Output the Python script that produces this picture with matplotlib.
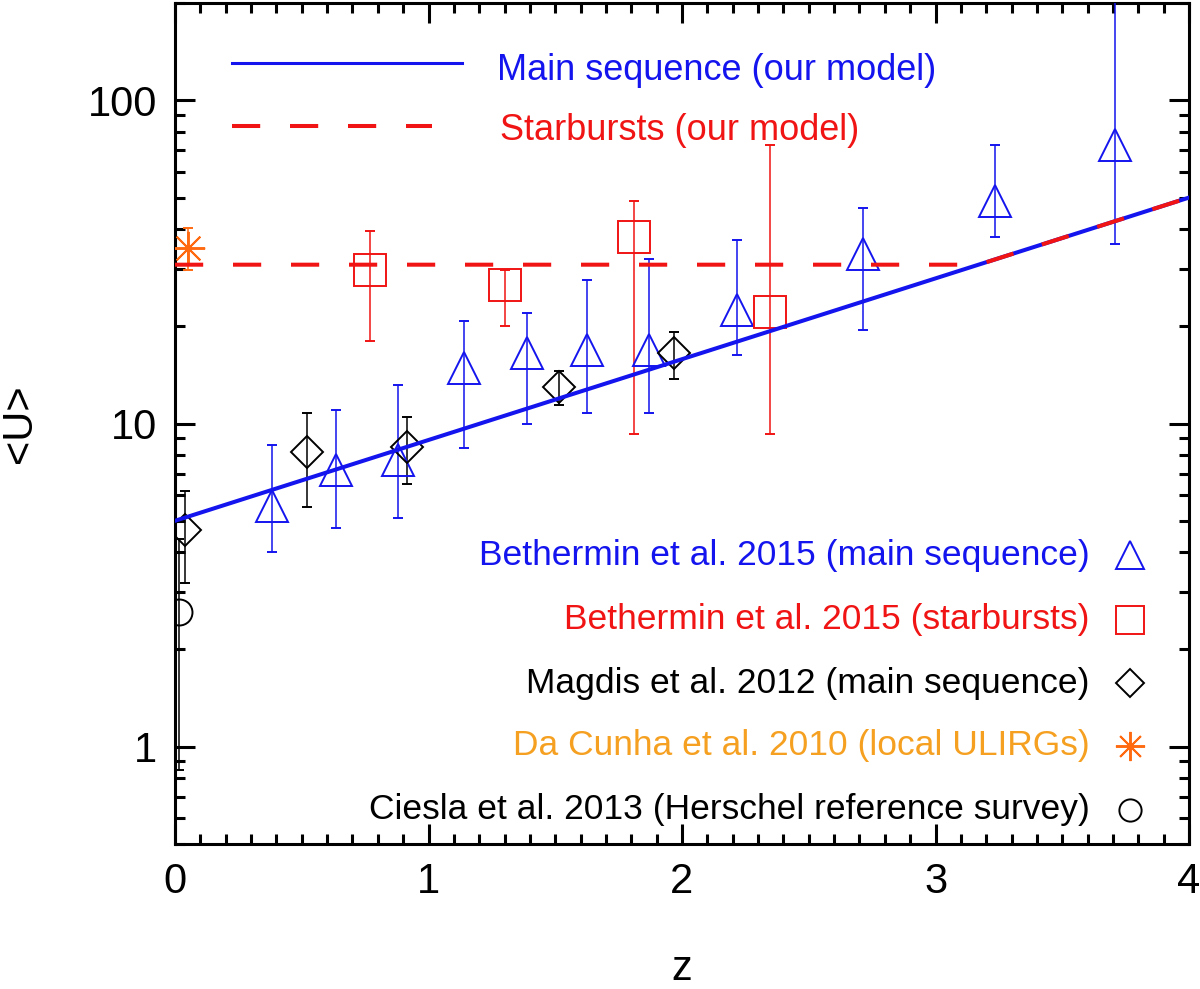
import matplotlib
matplotlib.use("Agg")
import matplotlib.pyplot as plt
from matplotlib.ticker import MultipleLocator, FixedLocator, NullFormatter
import numpy as np

plt.rcParams['font.family'] = ['Liberation Sans', 'DejaVu Sans']

# --- data ---
# model curves
ms_z = [0.0, 4.0]
ms_u = [5.0, 50.0]
sb_z = [0.0, 3.17, 4.0]
sb_u = [31.0, 31.0, 50.0]

# Bethermin et al. 2015, main sequence (triangles)
b15ms_z = [0.383, 0.634, 0.881, 1.14, 1.387, 1.624, 1.871, 2.216, 2.713, 3.235, 3.708]
b15ms_u = [5.54, 7.18, 7.71, 14.9, 16.5, 16.9, 16.9, 22.5, 33.5, 48.7, 72.6]
b15ms_hi = [8.58, 11.0, 13.2, 20.7, 22.0, 27.8, 32.2, 36.9, 46.4, 72.6, 250.0]
b15ms_lo = [4.01, 4.75, 5.1, 8.4, 10.0, 10.8, 10.8, 16.3, 19.5, 37.7, 35.9]

# Bethermin et al. 2015, starbursts (squares)
b15sb_z = [0.769, 1.302, 1.81, 2.347]
b15sb_u = [29.8, 26.8, 37.7, 22.1]
b15sb_hi = [39.4, 29.8, 48.7, 72.6]
b15sb_lo = [18.0, 20.0, 9.28, 9.28]

# Magdis et al. 2012 (diamonds)
mag_z = [0.039, 0.522, 0.914, 1.516, 1.967]
mag_u = [4.69, 8.16, 8.46, 12.97, 16.5]
mag_hi = [6.18, 10.8, 10.5, 14.5, 19.2]
mag_lo = [3.21, 5.52, 6.5, 11.4, 13.7]

# Da Cunha et al. 2010 (asterisk)
dac_z = [0.05]
dac_u = [34.9]
dac_hi = [40.2]
dac_lo = [29.8]

# Ciesla et al. 2013 (circle)
cie_z = [0.016]
cie_u = [2.62]
cie_hi = [4.4]
cie_lo = [0.845]

BLUE = '#1414ee'
RED = '#f01414'
ORANGE_TXT = '#f5a020'
ORANGE = '#ff6a10'
BLACK = 'black'
ASTER = (8, 2, 0)

fig = plt.figure(figsize=(12, 9.89), dpi=100)
L, R, T, B = 175, 1189, 3, 844
ax = fig.add_axes([L / 1200, 1 - B / 989, (R - L) / 1200, (B - T) / 989])


def fx(px):
    return (px - L) / (R - L)


def fy(py):
    return (B - py) / (B - T)


def errpts(z, u, lo, hi, marker, color, ms, mew=1.4):
    u = np.array(u)
    yerr = [u - np.array(lo), np.array(hi) - u]
    ax.errorbar(z, u, yerr=yerr, marker=marker, linestyle='none', mfc='none',
                mec=color, mew=mew, ms=ms, ecolor=color, elinewidth=1.1,
                capsize=3.8, capthick=1.1, zorder=3)


errpts(b15ms_z, b15ms_u, b15ms_lo, b15ms_hi, '^', BLUE, 23)
errpts(b15sb_z, b15sb_u, b15sb_lo, b15sb_hi, 's', RED, 23)
errpts(mag_z, mag_u, mag_lo, mag_hi, 'D', BLACK, 16.3)
errpts(dac_z, dac_u, dac_lo, dac_hi, ASTER, ORANGE, 24, mew=1.4)
errpts(cie_z, cie_u, cie_lo, cie_hi, 'o', BLACK, 18.7)

dash = (0, (7.0, 7.4))
ax.plot(ms_z, ms_u, color=BLUE, lw=2.9, zorder=4)
ax.plot(sb_z, sb_u, color=RED, lw=2.9, linestyle=dash, zorder=5)

ax.set_yscale('log')
ax.set_xlim(0, 4)
ax.set_ylim(0.5, 200)

# top legend (model lines)
ax.plot([fx(232), fx(462)], [fy(63), fy(63)], color=BLUE, lw=2.2,
        transform=ax.transAxes, clip_on=False)
ax.plot([fx(232), fx(432)], [fy(126), fy(126)], color=RED, lw=2.9,
        linestyle=dash, transform=ax.transAxes, clip_on=False)
ax.text(fx(497), fy(70), 'Main sequence (our model)', color=BLUE,
        fontsize=26, va='center', ha='left', transform=ax.transAxes)
ax.text(fx(500), fy(131), 'Starbursts (our model)', color=RED,
        fontsize=26, va='center', ha='left', transform=ax.transAxes)

# bottom legend (data points)
leg_txt = ['Bethermin et al. 2015 (main sequence)',
           'Bethermin et al. 2015 (starbursts)',
           'Magdis et al. 2012 (main sequence)',
           'Da Cunha et al. 2010 (local ULIRGs)',
           'Ciesla et al. 2013 (Herschel reference survey)']
leg_col = [BLUE, RED, BLACK, ORANGE_TXT, BLACK]
leg_mk = ['^', 's', 'D', ASTER, 'o']
leg_mc = [BLUE, RED, BLACK, ORANGE, BLACK]
leg_ms = [20, 20, 14, 21, 16]
leg_y = [555, 620, 683, 746, 810]
for t, c, m, mc, s, py in zip(leg_txt, leg_col, leg_mk, leg_mc, leg_ms, leg_y):
    ax.text(fx(1090), fy(py), t, color=c, fontsize=25.5, ha='right',
            va='center', transform=ax.transAxes)
    ax.plot([fx(1130)], [fy(py)], marker=m, linestyle='none', mfc='none',
            mec=mc, ms=s, mew=1.4, transform=ax.transAxes, clip_on=False)

# axes styling
for sp in ax.spines.values():
    sp.set_linewidth(2.2)
ax.xaxis.set_major_locator(MultipleLocator(1))
ax.xaxis.set_minor_locator(MultipleLocator(0.1))
ax.yaxis.set_major_locator(FixedLocator([1, 10, 100]))
ax.yaxis.set_minor_locator(FixedLocator([k * 10.0 ** e for e in (-1, 0, 1, 2)
                                         for k in range(2, 10)]))
ax.yaxis.set_minor_formatter(NullFormatter())
ax.set_yticklabels(['1', '10', '100'])
ax.tick_params(which='both', direction='in', top=True, right=True, width=2.2,
               labelsize=30)
ax.tick_params(which='major', length=14.4, pad=13)
ax.tick_params(which='minor', length=7.2)

ax.set_xlabel('z', fontsize=30)
ax.set_ylabel('<U>', fontsize=30)
ax.xaxis.label.set_va('baseline')
ax.xaxis.set_label_coords(0.5, fy(980))
ax.yaxis.set_label_coords(fx(40), 0.5)

fig.savefig('out.png', dpi=100)
